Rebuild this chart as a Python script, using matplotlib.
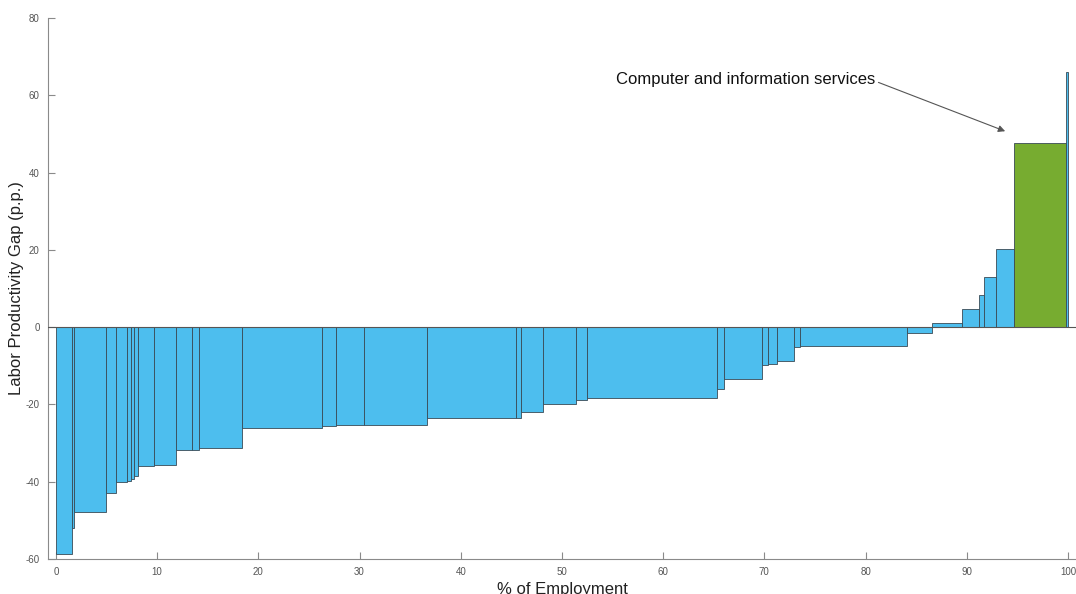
import numpy as np
import matplotlib
matplotlib.use('Agg')
import matplotlib.pyplot as plt

# employment share (% of employment) of each industry, in sorted order
shares = [1.58, 0.23, 3.10, 1.05, 1.03, 0.39, 0.36, 0.36, 1.61, 2.12,
          1.64, 0.63, 4.28, 7.93, 1.33, 2.82, 6.20, 8.82, 0.44, 2.23,
          3.23, 1.14, 12.83, 0.66, 3.72, 0.66, 0.83, 1.73, 0.57, 10.60,
          2.41, 3.03, 1.68, 0.49, 1.19, 1.78, 5.12, 0.20]
# labor productivity gap (p.p.)
gaps = [-58.6, -52.1, -47.8, -42.9, -40.2, -39.8, -39.3, -38.5, -36.0, -35.6,
        -31.9, -31.7, -31.4, -26.0, -25.5, -25.4, -25.2, -23.6, -23.4, -21.9,
        -20.0, -18.9, -18.3, -16.0, -13.4, -9.7, -9.5, -8.7, -5.1, -4.8,
        -1.5, 1.2, 4.8, 8.2, 12.9, 20.1, 47.6, 66.1]
highlight = 36  # Computer and information services
label = 'Computer and information services'

shares = np.array(shares)
gaps = np.array(gaps)
lefts = np.concatenate([[0], np.cumsum(shares)[:-1]])

colors = ['#4DBEEE'] * len(gaps)
colors[highlight] = '#77AC30'

plt.rcParams['font.family'] = ['Liberation Sans', 'DejaVu Sans']
plt.rcParams['axes.unicode_minus'] = False

fig = plt.figure(figsize=(10.76, 5.94), dpi=100)
ax = fig.add_axes([0.0446, 0.0589, 0.9554, 0.9108])

ax.bar(lefts, gaps, width=shares, align='edge', color=colors,
       edgecolor='#3a4a55', linewidth=0.6, zorder=2)
ax.axhline(0, color='#555555', linewidth=0.8, zorder=3)

ax.set_xlim(-0.79, 100.8)
ax.set_ylim(-60, 80)
ax.set_xticks(np.arange(0, 101, 10))
ax.set_yticks(np.arange(-60, 81, 20))

for s in ['top', 'right']:
    ax.spines[s].set_visible(False)
for s in ['left', 'bottom']:
    ax.spines[s].set_color('#8a8a8a')
    ax.spines[s].set_linewidth(0.8)
ax.tick_params(direction='in', length=5, width=0.8, color='#8a8a8a',
               labelsize=7, labelcolor='#555555', pad=6)

ax.set_xlabel('% of Employment', fontsize=12, color='#222222', labelpad=3)
ax.set_ylabel('Labor Productivity Gap (p.p.)', fontsize=12, color='#222222', labelpad=1)

tx = lefts[highlight] - 0.9
ax.annotate(label, xy=(tx, 50.7), xytext=(81.0, 64.0),
            ha='right', va='center', fontsize=12, color='#111111',
            arrowprops=dict(arrowstyle='-|>', color='#555555', lw=0.8,
                            mutation_scale=10, shrinkA=0, shrinkB=0,
                            relpos=(1.0, 0.4)))

fig.savefig('out.png', dpi=100)
